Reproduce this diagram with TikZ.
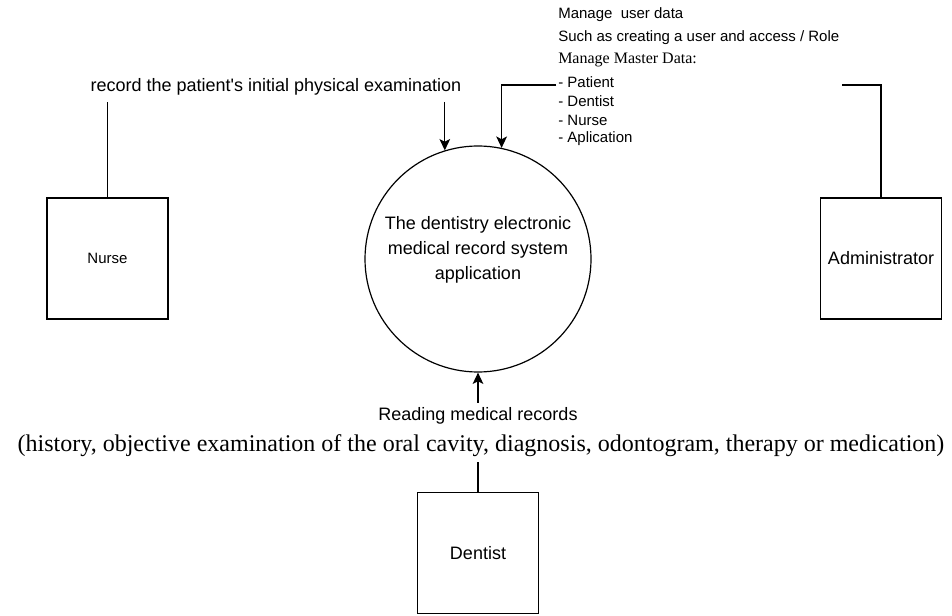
\documentclass[tikz,border=0pt]{standalone}
\usepackage{fontspec}
\setmainfont{Liberation Serif}
\setsansfont{Liberation Sans}
\usepackage{tikz}
\usetikzlibrary{shapes,arrows,arrows.meta}

\begin{document}
\begin{tikzpicture}[x=0.75pt,y=-0.75pt,
		entity/.style={draw, line width=0.9pt, minimum width=90.75pt, minimum height=90.75pt, font=\sffamily\fontsize{13.5}{16}\selectfont},
		link/.style={line width=0.9pt},
		flow/.style={line width=0.9pt, -{Stealth[length=8.5pt,width=8pt,inset=2pt]}},
		note/.style={font=\sffamily\fontsize{11.25}{13}\selectfont, inner sep=0pt, anchor=west},
		label13/.style={font=\sffamily\fontsize{13.5}{16}\selectfont}]
	\useasboundingbox (0,0) rectangle (952,616);
		\node[circle, draw, line width=0.9pt, minimum size=169.5pt] (app) at (478,259) {};
		\node[align=center, font=\sffamily\fontsize{13.5}{18.75}\selectfont] (apptxt) at (478,250) {The dentistry electronic\\medical record system\\application};
		\node[entity, font=\sffamily\fontsize{11.25}{13}\selectfont] (nurse) at (107.5,258.5) {Nurse};
		\node[entity] (admin) at (881,258.5) {Administrator};
		\node[entity] (dentist) at (478,553) {Dentist};
		\node[label13] (recnote) at (276,87) {record the patient\textquotesingle s initial physical examination};
		\node[note] (umgr) at (558,15) {Manage\ \ user data};
		\node[note] (usuch) at (558,38) {Such as creating a user and access / Role};
		\node[note, font=\rmfamily\fontsize{12}{14}\selectfont] (mdata) at (558,60) {Manage Master Data:};
		\node[note] (pat) at (558,82) {- Patient};
		\node[note] (den) at (558,101) {- Dentist};
		\node[note] (nur) at (558,120) {- Nurse};
		\node[note] (apl) at (558,139) {- Aplication};
		\node[label13] (reading) at (478,416) {Reading medical records};
		\node[font=\rmfamily\fontsize{18}{21}\selectfont] (hist) at (481,446) {(history, objective examination of the oral cavity, diagnosis, odontogram, therapy or medication)};
		\coordinate (nurtop) at (107.5,102);
		\coordinate (rectail) at (app.107 |- 0,102);
		\coordinate (patend) at (556,85);
		\coordinate (admend) at (842,85);
		\draw[link] (nurse.north) -- (nurtop);
		\draw[flow] (rectail) -- (app.107);
		\draw[flow] (patend) -| (app.78);
		\draw[link] (admend) -| (admin.north);
		\draw[flow] (reading.north) -- (app.south);
		\draw[link] (dentist.north) -- (dentist.north |- hist.south);
	\end{tikzpicture}
\end{document}
